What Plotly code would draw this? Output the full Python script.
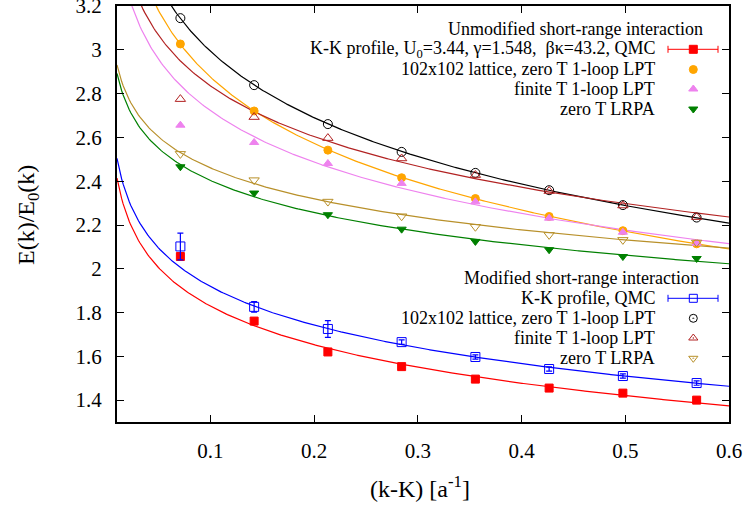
import numpy as np
import plotly.graph_objects as go

# Wave-vector offsets (k-K) in units of 1/a
k_vals = [0.0711, 0.1422, 0.2133, 0.2844, 0.3555, 0.4266, 0.4977, 0.5688]

# Unmodified short-range interaction
unmod_qmc = [2.056, 1.761, 1.620, 1.553, 1.496, 1.455, 1.432, 1.400]
unmod_qmc_err = [0.012, 0.010, 0.010, 0.010, 0.010, 0.010, 0.010, 0.010]
unmod_lattice = [3.027, 2.721, 2.542, 2.416, 2.321, 2.239, 2.174, 2.114]
unmod_finite_t = [2.656, 2.577, 2.481, 2.390, 2.306, 2.231, 2.167, 2.117]
unmod_lrpa = [2.466, 2.346, 2.247, 2.181, 2.125, 2.087, 2.056, 2.047]

# Modified short-range interaction
mod_qmc = [2.102, 1.826, 1.725, 1.665, 1.597, 1.542, 1.510, 1.478]
mod_qmc_err = [0.061, 0.024, 0.038, 0.010, 0.010, 0.010, 0.010, 0.010]
mod_lattice = [3.145, 2.839, 2.661, 2.534, 2.438, 2.359, 2.291, 2.234]
mod_finite_t = [2.775, 2.693, 2.597, 2.504, 2.428, 2.355, 2.289, 2.236]
mod_lrpa = [2.525, 2.405, 2.307, 2.240, 2.192, 2.155, 2.132, 2.120]

x_ticks = [0.1, 0.2, 0.3, 0.4, 0.5, 0.6]
x_ticktext = ["0.1", "0.2", "0.3", "0.4", "0.5", "0.6"]
y_ticks = [1.4, 1.6, 1.8, 2.0, 2.2, 2.4, 2.6, 2.8, 3.0, 3.2]
y_ticktext = ["1.4", "1.6", "1.8", "2", "2.2", "2.4", "2.6", "2.8", "3", "3.2"]

FONT = "Liberation Serif, Times New Roman, serif"
RED, ORANGE, VIOLET, GREEN = "#ff0000", "#ffa500", "#ee82ee", "#008000"
BLUE, BLACK, BROWN, TAN = "#0000ff", "#000000", "#b22222", "#b8902a"

# Plot-area geometry in pixels (figure is 749 x 505)
W, H = 749, 505
L, R, T, B = 117, 729, 6, 422


def px(x):
    return (x - L) / (R - L)


def py(y):
    return (B - y) / (B - T)


# (values, error, colour, symbol, key symbol, first index used in log fit)
series = [
    (unmod_qmc, unmod_qmc_err, RED, "square", "square", 1),
    (unmod_lattice, None, ORANGE, "circle", "circle", 0),
    (unmod_finite_t, None, VIOLET, "triangle-up", "triangle-up", 1),
    (unmod_lrpa, None, GREEN, "triangle-down", "triangle-down", 0),
    (mod_qmc, mod_qmc_err, BLUE, "square-open", "square-open", 1),
    (mod_lattice, None, BLACK, "circle-open", "circle-open-dot", 0),
    (mod_finite_t, None, BROWN, "triangle-up-open", "triangle-up-open-dot", 1),
    (mod_lrpa, None, TAN, "triangle-down-open", "triangle-down-open-dot", 0),
]

fig = go.Figure()

# Logarithmic fits E/E0 = a + b ln k for each data set
k_arr = np.array(k_vals)
k_dense = np.linspace(0.01, 0.6, 400)
for vals, err, color, sym, ksym, start in series:
    b, a = np.polyfit(np.log(k_arr[start:]), np.array(vals)[start:], 1)
    fig.add_trace(go.Scatter(
        x=k_dense, y=a + b * np.log(k_dense), mode="lines",
        line=dict(color=color, width=1.2), showlegend=False,
        hoverinfo="skip"))

for vals, err, color, sym, ksym, start in series:
    open_sym = sym.endswith("open")
    fig.add_trace(go.Scatter(
        x=k_vals, y=vals, mode="markers",
        marker=dict(symbol=sym, size=8 if not open_sym else 9, color=color,
                    line=dict(color=color, width=1)),
        error_y=dict(type="data", array=err, color=color, thickness=1.2,
                     width=3, visible=err is not None),
        showlegend=False))

# Key blocks
annotations = []
key_titles = [
    ("Unmodified short-range interaction", 705, 29),
    ("Modified short-range interaction", 701, 278.3),
]
for text, x, y in key_titles:
    annotations.append(dict(text=text, x=px(x), y=py(y), xref="paper",
                            yref="paper", xanchor="right", yanchor="middle",
                            showarrow=False,
                            font=dict(family=FONT, size=18, color="black")))

key_labels = [
    "K-K profile, U<sub>0</sub>=3.44, \u03b3=1.548,  \u03b2\u03ba=43.2, QMC",
    "102x102 lattice, zero T 1-loop LPT",
    "finite T 1-loop LPT",
    "zero T LRPA",
    "K-K profile, QMC",
    "102x102 lattice, zero T 1-loop LPT",
    "finite T 1-loop LPT",
    "zero T LRPA",
]
key_rows = [49.3, 69.5, 89.0, 109.0, 298.3, 318.3, 338.0, 358.3]
text_right = 656.5
key_x0, key_xm, key_x1 = 668, 693.3, 718

for (vals, err, color, sym, ksym, start), label, row in zip(series, key_labels, key_rows):
    annotations.append(dict(text=label, x=px(text_right), y=py(row),
                            xref="paper", yref="paper", xanchor="right",
                            yanchor="middle", showarrow=False,
                            font=dict(family=FONT, size=18, color="black")))
    if err is not None:
        fig.add_trace(go.Scatter(
            x=[px(key_x0), px(key_x1)], y=[py(row), py(row)], mode="lines",
            line=dict(color=color, width=1), xaxis="x2", yaxis="y2",
            showlegend=False, hoverinfo="skip"))
        for cx in (key_x0, key_x1):
            fig.add_trace(go.Scatter(
                x=[px(cx), px(cx)], y=[py(row - 3.5), py(row + 3.5)],
                mode="lines", line=dict(color=color, width=1),
                xaxis="x2", yaxis="y2", showlegend=False, hoverinfo="skip"))
    fig.add_trace(go.Scatter(
        x=[px(key_xm)], y=[py(row)], mode="markers",
        marker=dict(symbol=ksym, size=8, color=color,
                    line=dict(color=color, width=1)),
        xaxis="x2", yaxis="y2", showlegend=False, hoverinfo="skip"))

# Axis titles
annotations.append(dict(text="(k-K) [a<sup>-1</sup>]", x=px(420), y=py(487),
                        xref="paper", yref="paper", showarrow=False,
                        xanchor="center", yanchor="middle",
                        font=dict(family=FONT, size=24, color="black")))
annotations.append(dict(text="E(k)/E<sub>0</sub>(k)", x=px(28), y=py(215),
                        xref="paper", yref="paper", showarrow=False,
                        textangle=-90, xanchor="center", yanchor="middle",
                        font=dict(family=FONT, size=24, color="black")))

axis_common = dict(showline=True, linecolor="black", linewidth=2,
                   mirror="allticks", ticks="inside", ticklen=7,
                   tickwidth=1, tickcolor="black", showgrid=False,
                   zeroline=False, ticklabelstandoff=9,
                   ticklabeloverflow="allow", automargin=False,
                   tickfont=dict(family=FONT, size=21, color="black"))

fig.update_layout(
    width=W, height=H,
    margin=dict(l=L, r=W - R, t=T, b=H - B),
    paper_bgcolor="white", plot_bgcolor="white",
    font=dict(family=FONT, color="black"),
    xaxis=dict(range=[0.01, 0.6], tickvals=x_ticks, ticktext=x_ticktext,
               **axis_common),
    yaxis=dict(range=[1.3, 3.2005], tickvals=y_ticks, ticktext=y_ticktext,
               **axis_common),
    xaxis2=dict(range=[0, 1], overlaying="x", visible=False),
    yaxis2=dict(range=[0, 1], overlaying="y", visible=False),
    annotations=annotations,
    showlegend=False,
)

fig.write_html("out.html")
